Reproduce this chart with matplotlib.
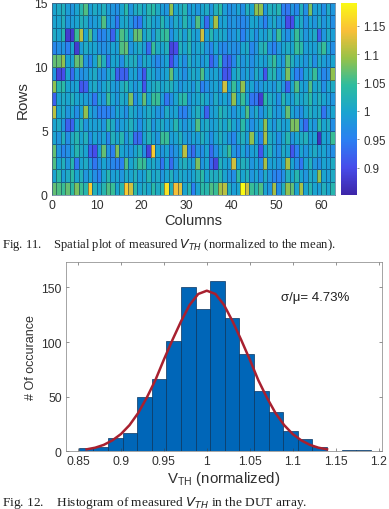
import numpy as np
import matplotlib
matplotlib.use("Agg")
from matplotlib import pyplot as plt
from matplotlib.colors import LinearSegmentedColormap

# heatmap rows, bottom row first
row00 = [1.07,1.06,1.05,1.07,1.04,1.08,1.05,1.03,1.15,1.02, 1.00,1.03,1.06,1.05,1.00,1.03,1.15,1.12,1.04,1.00, 1.02,1.00,1.04,1.01,1.03,1.17,1.02,1.14,1.13,1.00, 1.03,0.95,1.00,1.04,1.03,1.06,1.05,1.10,1.11,1.02, 0.99,1.00,1.19,1.12,1.05,1.03,1.06,1.00,0.98,1.10, 0.97,1.02,1.09,1.07,1.00,1.10,1.00,1.03,1.00,0.99, 1.02,1.00,1.03]
row01 = [1.00,1.04,0.99,1.01,1.04,1.00,1.02,0.98,1.00,0.97, 0.95,1.00,1.03,0.99,1.00,0.98,1.01,1.00,1.02,0.99, 1.00,1.03,1.00,1.01,0.98,1.00,1.02,0.99,1.01,1.00, 0.99,1.00,1.02,1.04,1.00,1.02,1.01,1.03,1.00,0.98, 0.97,1.04,1.00,1.02,0.98,1.00,0.97,1.01,0.98,0.96, 0.95,0.97,1.02,1.00,1.03,1.00,0.98,1.01,1.00,1.09, 1.00,0.99,1.01]
row02 = [1.06,1.00,1.02,0.98,1.03,0.94,1.00,1.01,0.98,0.94, 0.97,1.00,0.98,0.96,0.95,0.95,1.06,1.00,1.02,1.05, 1.05,1.00,1.01,0.99,0.94,1.00,0.93,0.98,1.01,1.02, 1.00,0.99,1.08,0.98,1.00,0.93,0.89,1.02,1.00,0.99, 1.12,1.00,1.02,1.01,0.98,1.00,0.97,1.10,0.99,1.00, 0.98,1.00,1.10,1.00,0.97,0.94,1.00,1.02,0.98,0.97, 1.00,0.99,1.01]
row03 = [1.07,0.98,0.96,0.97,1.00,1.03,1.01,1.00,0.92,0.90, 0.99,1.07,0.98,0.95,1.08,1.00,0.99,0.98,1.00,1.02, 0.97,0.89,1.15,1.00,0.98,1.00,0.96,0.98,1.00,1.11, 0.96,0.93,0.98,0.97,1.00,0.93,0.97,1.00,1.01,1.05, 0.98,0.96,1.00,0.97,0.99,1.00,0.91,1.00,1.02,0.99, 0.97,1.01,1.00,0.91,0.95,1.00,0.98,1.00,1.01,0.99, 1.00,0.98,0.97]
row04 = [1.00,0.98,1.02,0.97,1.01,1.03,1.00,1.02,0.97,1.00, 0.98,1.00,0.96,1.02,1.00,1.03,0.98,1.01,0.93,0.93, 1.00,1.02,1.00,0.98,1.05,1.05,0.99,1.00,1.02,0.99, 0.98,1.00,0.99,1.02,1.00,0.97,1.00,1.02,1.00,0.98, 0.96,1.00,1.02,0.99,1.09,1.00,0.96,1.10,1.01,1.00, 0.97,1.00,1.03,0.98,1.00,1.01,1.02,0.99,1.00,0.87, 1.00,0.99,1.05]
row05 = [1.00,1.01,0.98,0.92,0.92,1.00,1.02,0.98,1.00,0.99, 1.00,0.98,1.04,1.01,0.97,0.99,1.00,1.02,1.00,0.97, 1.00,1.02,0.98,1.00,1.01,0.99,1.00,1.03,1.00,0.98, 1.00,0.99,1.06,1.00,1.01,0.99,1.00,1.02,1.00,1.03, 1.00,0.98,1.04,1.00,0.97,0.99,1.00,1.09,1.00,0.98, 1.01,0.99,1.00,1.08,1.08,0.97,0.93,1.00,0.98,1.04, 1.00,1.01,0.97]
row06 = [1.11,1.00,1.01,0.98,1.00,0.97,1.00,1.09,1.00,0.98, 0.95,0.95,0.95,0.97,1.00,0.99,0.97,1.01,1.00,0.98, 1.00,1.01,1.00,0.98,0.97,1.01,0.99,1.00,0.96,0.95, 0.98,1.00,1.02,0.99,0.92,0.99,1.00,1.03,1.01,1.00, 0.98,1.00,1.00,1.06,0.98,1.01,0.97,1.00,1.02,0.99, 0.98,1.00,1.07,1.00,0.98,0.97,1.00,1.02,1.00,1.01, 0.94,0.98,1.00]
row07 = [0.92,1.00,1.01,1.00,1.02,1.00,1.00,0.99,0.98,0.94, 1.00,0.98,1.05,1.00,0.98,1.01,1.00,1.08,0.97,1.00, 1.07,1.00,1.05,1.05,0.99,0.94,0.97,1.00,1.03,1.04, 0.98,1.00,1.00,1.02,1.00,0.98,1.01,0.99,1.00,0.98, 1.09,1.00,1.05,1.00,0.94,0.94,0.88,1.04,1.01,1.00, 0.97,1.03,1.00,0.99,1.02,1.00,1.01,1.04,1.00,1.02, 1.00,0.99,0.98]
row08 = [1.09,1.03,1.04,1.00,0.99,1.00,0.91,0.92,1.00,1.01, 0.98,1.00,1.02,0.99,0.98,1.01,1.03,1.00,0.98,1.00, 0.91,1.00,1.01,1.02,1.00,1.01,1.02,1.00,0.98,0.99, 1.00,0.98,1.01,0.95,0.97,0.99,1.00,0.98,1.12,0.99, 1.05,1.00,1.09,0.99,1.00,0.97,0.98,1.00,0.99,0.98, 1.01,0.98,0.92,1.00,1.06,1.00,0.99,1.06,1.00,1.01, 0.97,1.00,1.01]
row09 = [0.98,0.89,0.90,1.00,0.93,0.99,0.97,0.98,1.00,1.01, 0.98,0.97,1.00,1.01,0.92,0.92,0.92,0.99,1.00,0.96, 0.91,1.01,1.00,0.98,0.99,1.00,1.07,1.00,0.99,0.97, 1.00,1.01,1.00,1.06,1.00,0.99,1.00,0.98,0.91,0.91, 1.00,1.02,0.98,1.00,0.97,1.01,0.99,0.91,1.02,1.03, 0.98,1.00,1.08,0.99,0.95,0.95,1.00,1.01,1.05,0.99, 0.96,0.97,1.09]
row10 = [1.07,1.07,1.09,1.00,1.00,1.07,1.07,0.98,0.96,1.00, 1.06,1.02,0.94,1.00,1.00,0.97,1.02,1.01,1.02,0.97, 1.01,1.00,0.98,0.96,0.98,1.00,0.90,0.95,1.00,0.97, 1.02,0.99,1.00,0.98,1.00,0.92,0.96,1.03,0.93,0.92, 0.96,1.01,0.98,1.00,0.97,0.99,1.00,0.99,1.02,1.05, 1.00,0.98,1.06,1.02,0.99,1.00,0.98,1.01,0.97,1.01, 0.99,0.98,1.00]
row11 = [0.96,0.97,0.98,0.95,1.00,0.88,0.99,1.01,1.00,1.00, 0.98,0.97,0.98,1.00,0.99,1.06,1.07,0.98,1.00,1.01, 0.99,0.93,1.05,1.01,1.00,1.02,0.89,0.90,1.02,1.00, 1.03,0.99,1.00,1.01,0.98,0.96,1.00,0.97,0.96,0.98, 0.97,0.97,1.00,1.01,0.96,0.98,1.02,1.03,0.97,0.95, 0.98,1.00,1.01,1.00,1.05,1.04,0.99,1.00,0.99,1.02, 1.05,1.00,0.97]
row12 = [1.01,1.00,1.03,0.88,0.88,1.05,1.11,1.00,1.06,0.99, 0.95,0.96,0.98,0.92,1.00,1.06,1.04,0.99,1.07,1.07, 1.00,1.02,0.98,1.02,1.04,1.05,0.97,1.00,1.02,0.99, 1.03,1.00,0.99,1.12,0.99,1.03,1.00,1.01,1.00,0.97, 0.98,1.00,0.95,0.98,1.00,0.97,1.00,0.99,1.02,0.98, 1.05,0.99,0.97,1.00,1.05,1.01,0.98,1.00,1.01,0.92, 0.98,1.01,0.99]
row13 = [1.00,1.00,1.02,0.98,0.99,1.00,1.02,1.01,0.98,0.99, 1.00,1.06,0.99,0.98,0.94,1.00,1.01,0.98,0.95,0.94, 1.00,1.02,1.00,0.99,1.03,1.00,0.98,1.01,0.99,1.03, 1.00,0.98,1.06,1.00,0.93,1.00,1.10,0.99,1.00,0.97, 0.98,0.97,0.96,0.97,1.00,1.00,0.98,0.95,0.99,1.01, 0.98,0.98,0.90,0.90,1.00,1.01,0.97,1.00,0.98,1.01, 0.98,1.00,0.97]
row14 = [1.00,1.01,1.02,0.99,0.98,1.00,1.03,1.06,0.99,1.01, 1.00,1.02,0.99,0.98,0.97,1.00,1.04,0.98,1.01,1.02, 1.00,1.03,1.04,1.01,0.99,0.98,1.09,1.00,1.01,1.03, 0.98,1.00,0.98,1.00,1.01,0.98,1.02,1.04,0.99,0.97, 0.98,1.00,0.97,1.02,1.00,1.09,1.09,0.98,1.02,1.01, 1.03,0.95,0.94,0.98,0.96,1.02,0.97,1.08,0.99,1.00, 0.97,1.01,0.98]
rows = [row00, row01, row02, row03, row04, row05, row06, row07, row08, row09, row10, row11, row12, row13, row14]

# histogram
bin_edges = [0.851,0.868,0.885,0.902,0.919,0.936,0.953,0.970,0.987,1.004,1.021,1.038,1.055,1.072,1.089,1.106,1.123,1.140,1.157,1.174,1.191]
counts = [3,4,12,17,50,66,101,150,130,156,122,89,55,36,19,11,4,0,1,1]

# fit curve
fit_x = [0.86,0.87,0.88,0.89,0.90,0.91,0.92,0.93,0.94,0.95,0.96,0.97,0.98,0.99,1.00,1.01,1.02,1.03,1.04,1.05,1.06,1.07,1.08,1.09,1.10,1.11,1.12,1.13,1.14]
fit_y = [1.8,3.3,5.9,10,15.8,24,35,49,65,84,102,119,134,144,147,144,134,119,102,84,65,49,35,24,15.8,10,5.9,3.3,1.8]

parula = LinearSegmentedColormap.from_list("parula", [
    (0.24,0.15,0.66),(0.28,0.30,0.92),(0.17,0.50,0.95),
    (0.10,0.64,0.82),(0.18,0.74,0.62),(0.60,0.76,0.28),
    (0.98,0.75,0.22),(0.98,0.98,0.08)])

W, H = 389, 510
plt.rcParams["font.family"] = "Liberation Sans"
plt.rcParams["mathtext.default"] = "regular"
TEXT = "#303030"

def box(left, top, right, bottom):
    return [left/W, 1-bottom/H, (right-left)/W, (bottom-top)/H]

fig = plt.figure(figsize=(W/100, H/100), dpi=100)

# Fig. 11
ax = fig.add_axes(box(52, 3.5, 334.5, 196))
mesh = ax.pcolormesh(np.arange(64), np.arange(16), np.array(rows), cmap=parula, vmin=0.852, vmax=1.191,
                     edgecolors=(0.05,0.1,0.25,0.45), linewidth=0.4)
ax.set_xlim(0, 63)
ax.set_ylim(0, 15)
ax.set_xticks(range(0, 61, 10))
ax.set_yticks([0, 5, 10, 15])
ax.tick_params(labelsize=8.8, length=0, pad=3, labelcolor=TEXT)
ax.set_xlabel("Columns", fontsize=10.5, color=TEXT, labelpad=1)
ax.set_ylabel("Rows", fontsize=11, color=TEXT, labelpad=3)
for s in ax.spines.values():
    s.set_linewidth(0.5)
    s.set_color("#507090")

cax = fig.add_axes(box(341, 3.5, 357, 196))
cb = fig.colorbar(mesh, cax=cax)
cb.set_ticks([0.9, 0.95, 1, 1.05, 1.1, 1.15])
cb.set_ticklabels(["0.9", "0.95", "1", "1.05", "1.1", "1.15"])
cb.ax.tick_params(labelsize=8.3, length=1.5, width=0.4, pad=3, labelcolor=TEXT, color="#404040")
cb.outline.set_visible(False)

# Fig. 12
ax2 = fig.add_axes(box(66, 263.3, 382, 452.3))
ax2.bar(bin_edges[:-1], counts, width=np.diff(bin_edges), align="edge", color="#0066b8", edgecolor="#0a3560", linewidth=0.5)
ax2.plot(fit_x, fit_y, color="#a8202f", linewidth=1.8)
ax2.set_xlim(0.836, 1.204)
ax2.set_ylim(0, 173)
ax2.set_xticks([0.85, 0.9, 0.95, 1, 1.05, 1.1, 1.15, 1.2])
ax2.set_xticklabels(["0.85", "0.9", "0.95", "1", "1.05", "1.1", "1.15", "1.2"])
ax2.set_yticks([0, 50, 100, 150])
ax2.tick_params(labelsize=8.8, length=2, width=0.4, direction="in", top=True, right=True, pad=3, labelcolor=TEXT, color="#404040")
ax2.set_xlabel("V$_{TH}$ (normalized)", fontsize=10.8, color=TEXT, labelpad=1)
ax2.set_ylabel("# Of occurance", fontsize=9, color=TEXT, labelpad=3)
for s in ax2.spines.values():
    s.set_linewidth(0.5)
    s.set_color("#808080")
fig.text(281/W, 1-298/H, "\u03c3/\u03bc= 4.73%", fontsize=9.5, color="#202020", va="center")

# captions
fig.text(2/W, 1-245/H, "Fig. 11.    Spatial plot of measured $\\mathit{V_{TH}}$ (normalized to the mean).",
         family="Liberation Serif", fontsize=9.05, color="#202020", va="center")
fig.text(2/W, 1-503/H, "Fig. 12.    Histogram of measured $\\mathit{V_{TH}}$ in the DUT array.",
         family="Liberation Serif", fontsize=9.6, color="#202020", va="center")

fig.savefig("out.png", dpi=100)
